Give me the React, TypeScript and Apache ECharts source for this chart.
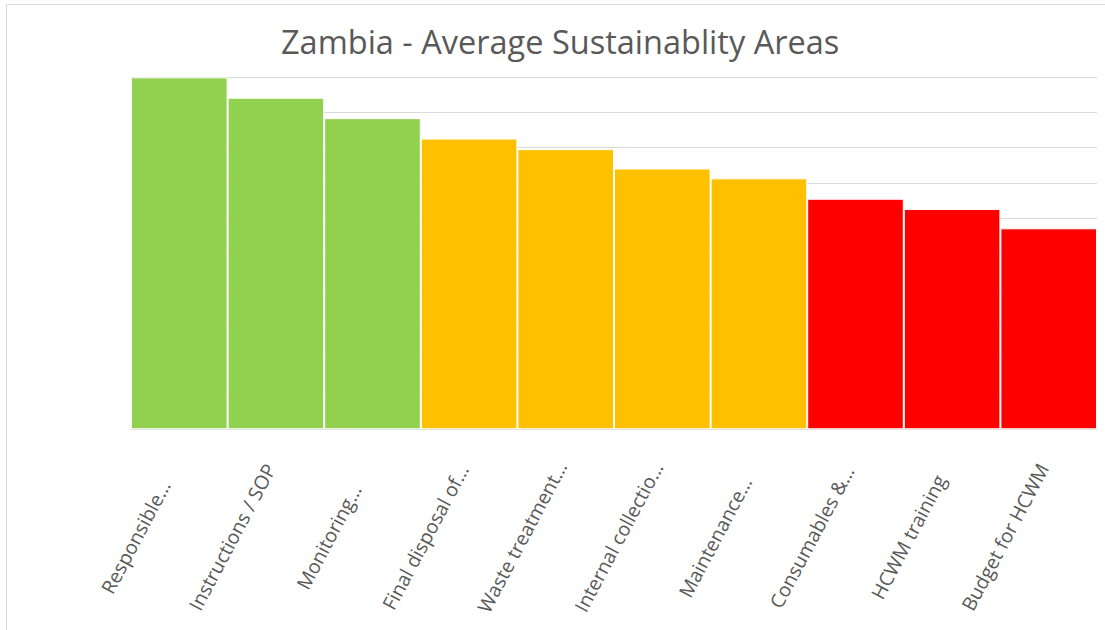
import React, { useEffect, useRef } from "react";
import * as echarts from "echarts";

const categories = [
  "Responsible…",
  "Instructions / SOP",
  "Monitoring…",
  "Final disposal of…",
  "Waste treatment…",
  "Internal collectio…",
  "Maintenance…",
  "Consumables &…",
  "HCWM training",
  "Budget for HCWM",
];
const values = [1.0, 0.942, 0.884, 0.826, 0.796, 0.741, 0.713, 0.655, 0.626, 0.571];
const barColors = [
  "#92D050", "#92D050", "#92D050",
  "#FFC000", "#FFC000", "#FFC000", "#FFC000",
  "#FF0000", "#FF0000", "#FF0000",
];
const titleText = "Zambia - Average Sustainablity Areas";

export default function App() {
  const ref = useRef<HTMLDivElement>(null);
  useEffect(() => {
    if (!ref.current) return;
    const chart = echarts.init(ref.current, undefined, { renderer: "svg" });
    chart.setOption({
      animation: false,
      backgroundColor: "#ffffff",
      title: {
        text: titleText,
        left: 281,
        top: 25,
        padding: 0,
        textStyle: {
          fontFamily: "Open Sans",
          fontSize: 32.5,
          fontWeight: "normal",
          color: "#595959",
        },
      },
      graphic: [
        {
          type: "rect",
          silent: true,
          z: -1,
          shape: { x: 6.5, y: 4.5, width: 1200, height: 700 },
          style: { fill: "none", stroke: "#d9d9d9", lineWidth: 1 },
        },
      ],
      grid: { left: 131, right: 8, top: 77.3, bottom: 200.7, containLabel: false },
      xAxis: {
        type: "category",
        data: categories,
        axisTick: { show: false },
        axisLine: { show: true, lineStyle: { color: "#d9d9d9", width: 1 } },
        axisLabel: {
          interval: 0,
          rotate: 62,
          align: "center",
          verticalAlign: "middle",
          margin: 25,
          padding: [0, 187, 0, 0],
          fontFamily: "Open Sans",
          fontSize: 19.5,
          color: "#595959",
        },
      },
      yAxis: {
        type: "value",
        min: 0,
        max: 1,
        interval: 0.1,
        axisLabel: { show: false },
        axisLine: { show: false },
        axisTick: { show: false },
        splitLine: { show: true, lineStyle: { color: "#d9d9d9", width: 1 } },
      },
      series: [
        {
          type: "bar",
          barCategoryGap: "0%",
          data: values.map((v, i) => ({
            value: v,
            itemStyle: { color: barColors[i] },
          })),
          itemStyle: { borderColor: "#ffffff", borderWidth: 1 },
        },
      ],
    });
    return () => chart.dispose();
  }, []);
  return (
    <div
      ref={ref}
      style={{ position: "fixed", left: 0, top: 0, width: 1105, height: 630 }}
    />
  );
}
